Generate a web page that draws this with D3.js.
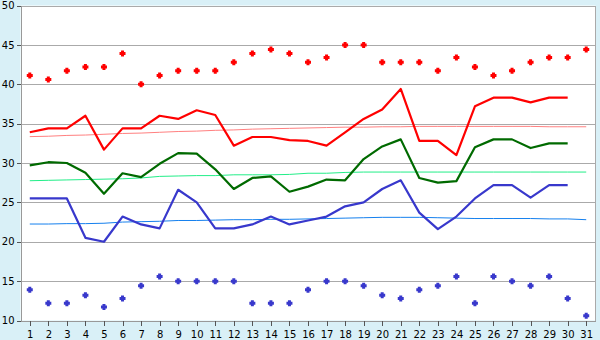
<!DOCTYPE html>
<html><head><meta charset="utf-8">
<script src="https://cdn.jsdelivr.net/npm/d3@7"></script>
<style>
html,body{margin:0;padding:0;background:#d9f0f7;}
svg{display:block;}
text{font-family:"DejaVu Sans",Verdana,sans-serif;font-size:10px;fill:#000;}
</style></head><body>
<svg id="c" width="600" height="340"></svg>
<script>
const days = d3.range(1, 32);
const yTicks = [10, 15, 20, 25, 30, 35, 40, 45, 50];
// daily extremes (dots)
const maxTemp = [41.1,40.6,41.7,42.2,42.2,43.9,40.0,41.1,41.7,41.7,41.7,42.8,43.9,44.4,43.9,42.8,43.4,45.0,45.0,42.8,42.8,42.8,41.7,43.4,42.2,41.1,41.7,42.8,43.4,43.4,44.4];
const minTemp = [13.9,12.2,12.2,13.2,11.7,12.8,14.4,15.6,15.0,15.0,15.0,15.0,12.2,12.2,12.2,13.9,15.0,15.0,14.4,13.2,12.8,13.9,14.4,15.6,12.2,15.6,15.0,14.4,15.6,12.8,10.6];
// daily lines (30 days)
const highLine = [33.9,34.4,34.4,36.0,31.7,34.4,34.4,36.0,35.6,36.7,36.1,32.2,33.3,33.3,32.9,32.8,32.2,33.9,35.6,36.8,39.4,32.8,32.8,31.0,37.2,38.3,38.3,37.7,38.3,38.3];
const meanLine = [29.7,30.1,30.0,28.75,26.1,28.7,28.2,29.9,31.25,31.2,29.2,26.7,28.1,28.3,26.35,27.0,27.9,27.8,30.5,32.1,33.0,28.1,27.5,27.7,32.0,33.0,33.0,31.9,32.5,32.5];
const lowLine = [25.5,25.5,25.5,20.5,20.0,23.2,22.2,21.7,26.6,25.0,21.7,21.7,22.2,23.2,22.2,22.7,23.2,24.5,25.0,26.7,27.8,23.7,21.6,23.2,25.5,27.2,27.2,25.6,27.2,27.2];
// normals (thin lines)
const normalHigh = [33.35,33.4,33.5,33.55,33.65,33.75,33.8,33.9,34.0,34.05,34.15,34.2,34.3,34.35,34.4,34.45,34.5,34.55,34.55,34.6,34.6,34.65,34.65,34.65,34.65,34.65,34.65,34.65,34.6,34.6,34.6];
const normalMean = [27.75,27.8,27.85,27.9,27.95,28.0,28.1,28.3,28.35,28.4,28.4,28.5,28.5,28.5,28.55,28.7,28.7,28.8,28.85,28.85,28.85,28.85,28.85,28.85,28.85,28.85,28.85,28.85,28.85,28.85,28.85];
const normalLow = [22.25,22.25,22.3,22.3,22.35,22.5,22.55,22.6,22.7,22.7,22.75,22.8,22.8,22.85,22.85,22.9,22.95,23.0,23.05,23.1,23.1,23.1,23.05,23.0,22.95,22.95,22.95,22.95,22.9,22.9,22.8];

const svg = d3.select("#c");
const L = 20.5, R = 595.5, T = 5.5, B = 320.5;
const x = d3.scalePoint().domain(days).range([L, R]).padding(0.5);
const y = d3.scaleLinear().domain([10, 50]).range([B, T]);

svg.append("rect").attr("x", L).attr("y", T).attr("width", R - L).attr("height", B - T).attr("fill", "#fff");

// gridlines
svg.append("g").selectAll("line").data(yTicks).join("line")
  .attr("x1", L).attr("x2", R)
  .attr("y1", d => Math.round(y(d)) + 0.5).attr("y2", d => Math.round(y(d)) + 0.5)
  .attr("stroke", "#aaaaaa").attr("stroke-width", 1).attr("shape-rendering", "crispEdges");
// right border
svg.append("line").attr("x1", R).attr("x2", R).attr("y1", T).attr("y2", B)
  .attr("stroke", "#aaaaaa").attr("shape-rendering", "crispEdges");

// axes
const ya = svg.append("g").attr("transform", `translate(${L},0)`)
  .call(d3.axisLeft(y).tickValues(yTicks).tickSize(4).tickPadding(2).tickSizeOuter(0));
const xa = svg.append("g").attr("transform", `translate(0,${B})`)
  .call(d3.axisBottom(x).tickSize(5).tickPadding(5).tickSizeOuter(0));
[ya, xa].forEach(a => {
  a.select(".domain").attr("stroke", "#999").attr("shape-rendering", "crispEdges");
  a.selectAll(".tick line").attr("stroke", "#555").attr("shape-rendering", "crispEdges");
  a.selectAll("text").attr("fill", "#000").style("font-size", "10px").style("font-family", "DejaVu Sans, Verdana, sans-serif");
});

const line = d3.line().x((d, i) => x(days[i])).y(d => y(d));

function drawLine(data, color, w) {
  svg.append("path").datum(data).attr("d", line).attr("fill", "none")
    .attr("stroke", color).attr("stroke-width", w).attr("stroke-linejoin", "round");
}
drawLine(normalHigh, "#ff8080", 1);
drawLine(normalMean, "#22ee88", 1);
drawLine(normalLow, "#1580ee", 1);
drawLine(highLine, "#ff0000", 2.2);
drawLine(meanLine, "#006a00", 2.2);
drawLine(lowLine, "#3838cc", 2.2);

// thick plus marker: span 6px, arm width 3px
const plusSym = {
  draw(ctx) {
    const a = 3, b = 1.5;
    ctx.moveTo(-b, -a); ctx.lineTo(b, -a); ctx.lineTo(b, -b); ctx.lineTo(a, -b);
    ctx.lineTo(a, b); ctx.lineTo(b, b); ctx.lineTo(b, a); ctx.lineTo(-b, a);
    ctx.lineTo(-b, b); ctx.lineTo(-a, b); ctx.lineTo(-a, -b); ctx.lineTo(-b, -b);
    ctx.closePath();
  }
};
const sym = d3.symbol().type(plusSym);
function drawDots(data, color) {
  svg.append("g").selectAll("path").data(data).join("path")
    .attr("d", sym).attr("transform", (d, i) => `translate(${x(days[i])},${y(d)})`)
    .attr("fill", color);
}
drawDots(maxTemp, "#ff0000");
drawDots(minTemp, "#3838cc");
</script>
</body></html>
